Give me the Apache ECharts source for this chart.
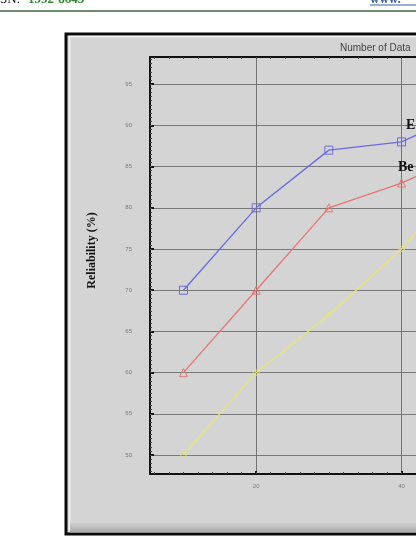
<!DOCTYPE html>
<html><head><meta charset="utf-8">
<script src="https://cdn.jsdelivr.net/npm/echarts@6/dist/echarts.min.js"></script>
<style>html,body{margin:0;padding:0;background:#fff}#c{width:416px;height:548px}</style>
</head><body><div id="c"></div>
<script>
// ---- data ----
const xValues = [10, 20, 30, 40, 50];
const seriesE = [70, 80, 87, 88, 92];
const seriesBe = [60, 70, 80, 83, 87];
const seriesThird = [50, 60, 67, 75, 85];
const yTickLabels = [50, 55, 60, 65, 70, 75, 80, 85, 90, 95];
const xTickLabels = [20, 40, 60];
const seriesLabels = ['E', 'Be'];
const axisTitleY = 'Reliability (%)';
const axisTitleX = 'Number of Data';

const xMin = 5.4, xMax = 65, yMin = 47.7, yMax = 98.3;
const xMinor = []; for (let v = 6; v <= 64; v += 2) xMinor.push(v);
const yMinor = []; for (let v = 48; v <= 98; v += 0.5) yMinor.push(v);

const pairs = arr => xValues.map((x, i) => [x, arr[i]]);
const blue = '#6a6ae2', red = '#e67676', yellow = '#e6e672';

const chart = echarts.init(document.getElementById('c'));
chart.setOption({
  backgroundColor: '#ffffff',
  animation: false,
  grid: { left: 150, top: 57, height: 417, width: (xMax - xMin) * 7.27, outerBoundsMode: 'none', containLabel: false },
  xAxis: [
    { type: 'value', min: xMin, max: xMax, position: 'bottom',
      axisLine: { show: true, lineStyle: { color: '#111', width: 2 } },
      axisLabel: { customValues: xTickLabels, fontSize: 6, color: '#7a7a7a', margin: 9, fontFamily: 'Liberation Sans' },
      axisTick: { customValues: xTickLabels, inside: true, length: 3, lineStyle: { color: '#111', width: 2 } },
      splitLine: { show: true, lineStyle: { color: '#747474', width: 1 } } },
    { type: 'value', min: xMin, max: xMax, position: 'bottom',
      axisLine: { show: false }, axisLabel: { show: false }, splitLine: { show: false },
      axisTick: { customValues: xMinor, inside: true, length: 2, lineStyle: { color: '#444', width: 1 } } },
    { type: 'value', min: xMin, max: xMax, position: 'top',
      axisLine: { show: true, lineStyle: { color: '#111', width: 2 } },
      axisLabel: { show: false }, splitLine: { show: false },
      axisTick: { customValues: xMinor, inside: true, length: 2, lineStyle: { color: '#444', width: 1 } } }
  ],
  yAxis: [
    { type: 'value', min: yMin, max: yMax, position: 'left',
      name: axisTitleY, nameLocation: 'middle', nameRotate: 90, nameGap: 52,
      nameTextStyle: { fontFamily: 'Liberation Serif', fontWeight: 'bold', fontSize: 12, color: '#111', padding: [0, 0, 0, 30] },
      axisLine: { show: true, lineStyle: { color: '#111', width: 2 } },
      axisLabel: { customValues: yTickLabels, fontSize: 6, color: '#7a7a7a', margin: 18, fontFamily: 'Liberation Sans' },
      axisTick: { customValues: yTickLabels, inside: true, length: 4, lineStyle: { color: '#111', width: 2 } },
      splitLine: { show: true, lineStyle: { color: '#787878', width: 1 } } },
    { type: 'value', min: yMin, max: yMax, position: 'left',
      axisLine: { show: false }, axisLabel: { show: false }, splitLine: { show: false },
      axisTick: { customValues: yMinor, inside: true, length: 2, lineStyle: { color: '#444', width: 1 } } }
  ],
  title: {
    text: axisTitleX, left: 335, top: 38,
    textStyle: { fontSize: 10, fontWeight: 'normal', color: '#444', fontFamily: 'Liberation Sans' }
  },
  graphic: [
    { type: 'rect', z: -10, shape: { x: 66, y: 34, width: 420, height: 500 },
      style: { fill: '#d4d4d4', stroke: '#0a0a0a', lineWidth: 3 } },
    { type: 'polyline', z: -9, shape: { points: [[69.5, 531], [69.5, 36.5], [430, 36.5]] },
      style: { stroke: '#f2f2f2', lineWidth: 1.5, fill: null } },
    { type: 'rect', z: -9, shape: { x: 70, y: 522, width: 420, height: 10.5 },
      style: { fill: new echarts.graphic.LinearGradient(0, 0, 0, 1, [
        { offset: 0, color: '#d4d4d4' }, { offset: 1, color: '#a9a9a9' }]) } },
    { type: 'line', z: 50, shape: { x1: 0, y1: 11, x2: 416, y2: 11 },
      style: { stroke: '#6f8d6f', lineWidth: 2 } },
    { type: 'text', z: 50, x: 0, y: -0.5,
      style: { text: 'SN:', font: '13px "Liberation Serif"', fill: '#111', verticalAlign: 'middle' } },
    { type: 'text', z: 50, x: 28, y: -0.5,
      style: { text: '1992-8645', font: 'bold 13px "Liberation Serif"', fill: '#2f8a2f', verticalAlign: 'middle' } },
    { type: 'text', z: 50, x: 370, y: -0.5,
      style: { text: 'www.', font: 'bold 13px "Liberation Serif"', fill: '#3a5fb0', verticalAlign: 'middle' } },
    { type: 'line', z: 50, shape: { x1: 370, y1: 5, x2: 416, y2: 5 },
      style: { stroke: '#3a5fb0', lineWidth: 1 } },
    { type: 'text', z: 50, x: 406, y: 125,
      style: { text: seriesLabels[0], font: 'bold 14px "Liberation Serif"', fill: '#111', verticalAlign: 'middle' } },
    { type: 'text', z: 50, x: 398, y: 167,
      style: { text: seriesLabels[1], font: 'bold 14px "Liberation Serif"', fill: '#111', verticalAlign: 'middle' } }
  ],
  series: [
    { type: 'line', data: pairs(seriesE), symbol: 'rect', symbolSize: 8, showAllSymbol: true,
      lineStyle: { color: blue, width: 1.3 },
      itemStyle: { color: 'rgba(0,0,0,0)', borderColor: blue, borderWidth: 1 }, z: 5 },
    { type: 'line', data: pairs(seriesBe), symbol: 'triangle', symbolSize: 8, showAllSymbol: true,
      lineStyle: { color: red, width: 1.3 },
      itemStyle: { color: 'rgba(0,0,0,0)', borderColor: red, borderWidth: 1 }, z: 4 },
    { type: 'line', data: pairs(seriesThird), symbol: 'diamond', symbolSize: 6, showAllSymbol: true,
      lineStyle: { color: yellow, width: 1.3 },
      itemStyle: { color: 'rgba(0,0,0,0)', borderColor: yellow, borderWidth: 1 }, z: 3 }
  ]
});
</script></body></html>
